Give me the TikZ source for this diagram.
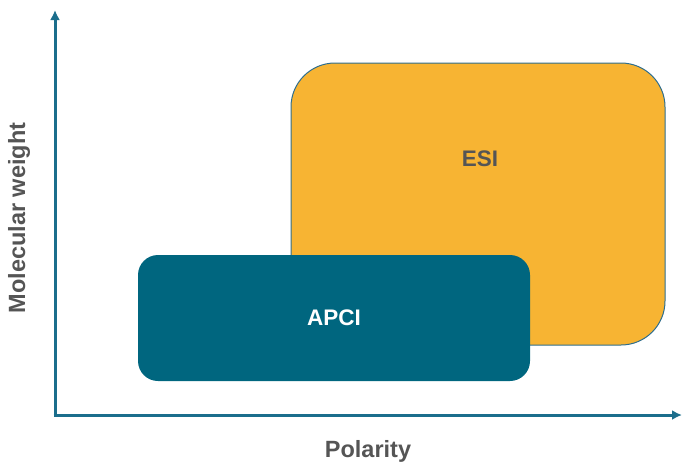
\documentclass[tikz,border=0pt]{standalone}
\usepackage{fontspec}
\setmainfont{Liberation Sans}
\usetikzlibrary{arrows.meta}
\definecolor{axisblue}{HTML}{1B6E8C}
\definecolor{apciteal}{HTML}{00667F}
\definecolor{esiorange}{HTML}{F7B433}
\definecolor{esiedge}{HTML}{2F6E8E}
\definecolor{labelgray}{HTML}{555555}
\tikzset{
  axisline/.style={draw=axisblue, line width=3pt, -{Latex[length=10pt,width=10pt]}},
  esibox/.style={rectangle, fill=esiorange, draw=esiedge, line width=1pt,
    rounded corners=44pt, minimum width=374pt, minimum height=282pt, inner sep=0pt},
  apcibox/.style={rectangle, fill=apciteal, rounded corners=20pt,
    minimum width=392pt, minimum height=126pt, inner sep=0pt},
  boxlabel/.style={font=\fontsize{22.5}{26}\selectfont\bfseries, inner sep=0pt},
  axislabel/.style={font=\fontsize{23.5}{27}\selectfont\bfseries, text=labelgray, inner sep=0pt},
}
\begin{document}
\begin{tikzpicture}[x=1pt,y=-1pt]
  \useasboundingbox (0,0) rectangle (682,461);
  % axes
  \coordinate (origin) at (55,415);
  \coordinate (ytip) at (55,10);
  \coordinate (xtip) at (682,415);
  \draw[axisline] (origin) -- (ytip);
  \draw[axisline] ([xshift=-1.5pt]origin) -- (xtip);
  % regions
  \node[esibox] (esi) at (478,204) {};
  \node[apcibox] (apci) at (334,318) {};
  \node[boxlabel, text=labelgray] (esitext) at (480,159) {ESI};
  \node[boxlabel, text=white] (apcitext) at (334,318) {APCI};
  % axis titles
  \node[axislabel, rotate=90] (ylab) at (19,218) {Molecular weight};
  \node[axislabel] (xlab) at (368,451) {Polarity};
\end{tikzpicture}
\end{document}
